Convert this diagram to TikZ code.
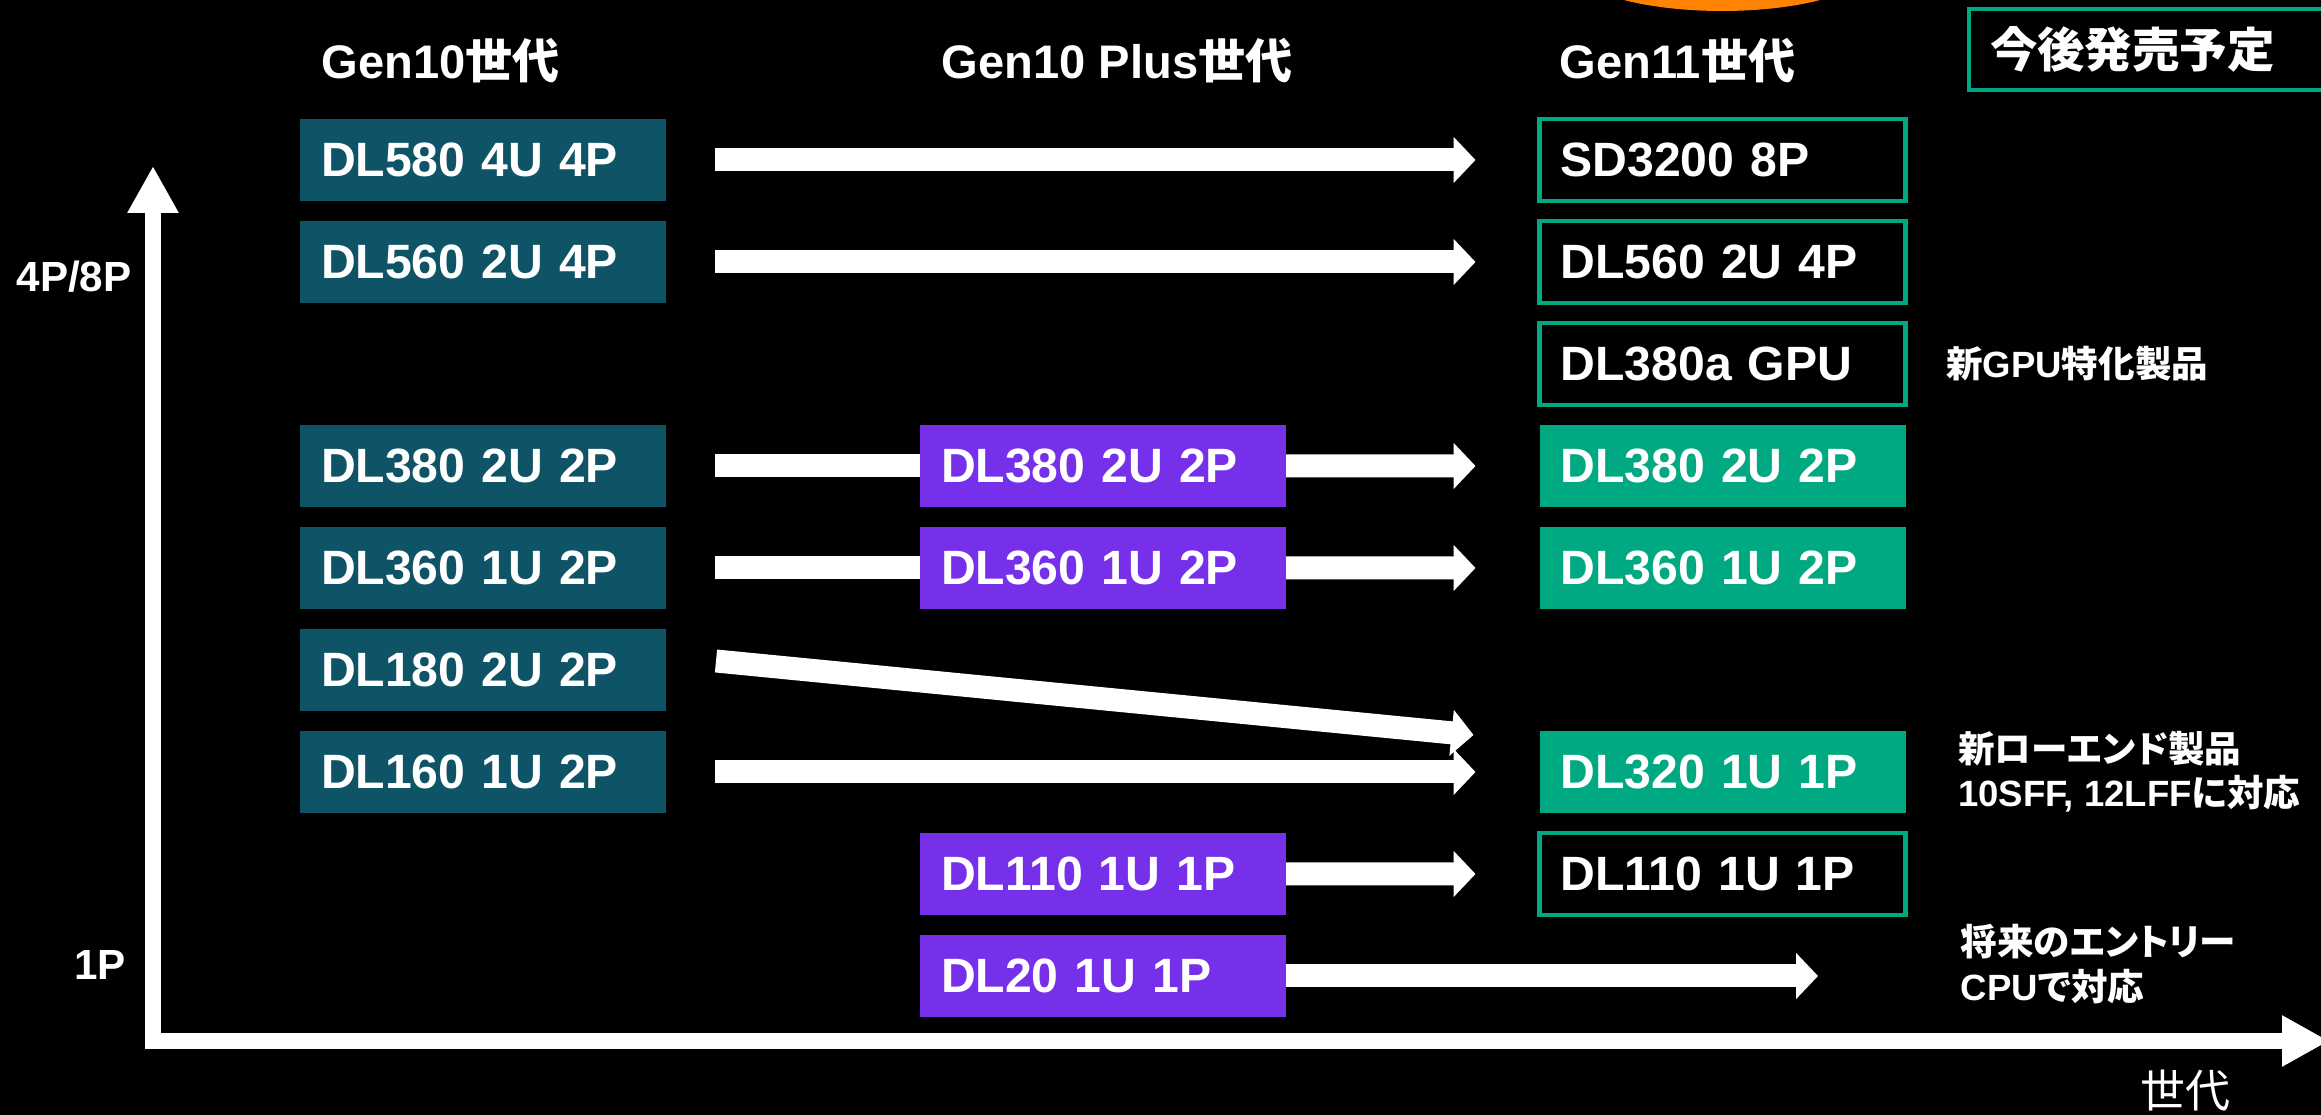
\documentclass[tikz,border=0pt]{standalone}
\usepackage{fontspec}
\setmainfont{Liberation Sans}
\newfontfamily\cjkfont{Noto Sans CJK JP}[RawFeature=+palt]
\newcommand{\jtext}[1]{{\cjkfont #1}}
\usepackage{xcolor}
\usepackage{tikz}
\usetikzlibrary{arrows.meta}
\usetikzlibrary{positioning}
\definecolor{hpeslate}{HTML}{0F5366}
\definecolor{hpepurple}{HTML}{7630EA}
\definecolor{hpegreen}{HTML}{01A982}
\definecolor{hpeorange}{HTML}{FF8300}
\tikzset{
  srv/.style = {rectangle, align=left, inner xsep=0.21cm, inner ysep=0pt,
    outer sep=0pt, text width=3.24cm, minimum height=0.82cm, text=white,
    font=\bfseries\fontsize{13.7}{16}\selectfont},
  srv_old/.style = {srv, fill=hpeslate},% Gen10
  srv_plus/.style = {srv, fill=hpepurple},% Gen10 Plus
  srv_new/.style = {srv, fill=hpegreen},% Gen11
  srv_soon/.style = {srv, draw=hpegreen, line width=1.2pt},% Gen11, a venir
  head/.style = {anchor=west, inner sep=0pt, text=white,
    font=\bfseries\fontsize{13.4}{16}\selectfont},
  note/.style = {anchor=west, align=left, inner sep=0pt, text=white,
    font=\bfseries\fontsize{10.4}{12.6}\selectfont},
  axlabel/.style = {inner sep=0pt, text=white,
    font=\bfseries\fontsize{12}{14}\selectfont},
  flow/.style = {white, line width=0.23cm, shorten <=0.49cm, shorten >=0.64cm,
    -{Triangle[length=0.22cm,width=0.45cm]}},
  feed/.style = {white, line width=0.23cm, shorten <=0.49cm},
  axis/.style = {white, line width=0.16cm,
    {Triangle[length=0.47cm,width=0.48cm]}-{Triangle[length=0.47cm,width=0.48cm]}}
}

\begin{document}
\begin{tikzpicture}
\fill[black, use as bounding box] (0,0) rectangle (23.21,11.15);
\fill[hpeorange] (17.22,11.49) ellipse (1.5cm and 0.45cm);

% titres
\node[head] (h10) at (3.21,10.54) {Gen10\jtext{世代}};
\node[head] (h10p) at (9.41,10.54) {Gen10 Plus\jtext{世代}};
\node[head] (h11) at (15.59,10.54) {Gen11\jtext{世代}};
\node[srv_soon, minimum height=0.81cm, text width=3.29cm,
  font=\bfseries\fontsize{13.5}{16}\selectfont] (soon) at (21.545,10.655) {\jtext{今後発売予定}};

% Gen10
\node[srv_old] (g580) at (4.83,9.55) {DL580 4U 4P};
\node[srv_old, below=0.2cm of g580] (g560) {DL560 2U 4P};
\node[srv_old, below=1.22cm of g560] (g380) {DL380 2U 2P};
\node[srv_old, below=0.2cm of g380] (g360) {DL360 1U 2P};
\node[srv_old, below=0.2cm of g360] (g180) {DL180 2U 2P};
\node[srv_old, below=0.2cm of g180] (g160) {DL160 1U 2P};

% Gen10 Plus
\node[srv_plus, right=2.54cm of g380] (p380) {DL380 2U 2P};
\node[srv_plus, right=2.54cm of g360] (p360) {DL360 1U 2P};
\node[srv_plus, below=2.24cm of p360] (p110) {DL110 1U 1P};
\node[srv_plus, below=0.2cm of p110] (p20) {DL20 1U 1P};

% Gen11
\node[srv_soon] (n580) at (17.225,9.55) {SD3200 8P};
\node[srv_soon, below=0.2cm of n580] (n560) {DL560 2U 4P};
\node[srv_soon, below=0.2cm of n560] (n380a) {DL380a GPU};
\node[srv_new, below=0.2cm of n380a] (n380) {DL380 2U 2P};
\node[srv_new, below=0.2cm of n380] (n360) {DL360 1U 2P};
\node[srv_new, below=1.22cm of n360] (n320) {DL320 1U 1P};
\node[srv_soon, below=0.2cm of n320] (n110) {DL110 1U 1P};

\coordinate[right=5.32cm of p20] (e20);

% commentaires
\node[note, right=0.4cm of n380a] (c380a) {\jtext{新}GPU\jtext{特化製品}};
\node[note, right=0.52cm of n320] (c320) {\jtext{新ローエンド製品}\\10SFF, 12LFF\jtext{に対応}};
\node[note] (c20) at ([xshift=1.42cm,yshift=0.12cm]e20) {\jtext{将来のエントリー}\\CPU\jtext{で対応}};

% fleches
\draw[flow] (g580) -- (n580);
\draw[flow] (g560) -- (n560);
\draw[feed] (g380) -- (p380);
\draw[flow, shorten <=0pt] (p380) -- (n380);
\draw[feed] (g360) -- (p360);
\draw[flow, shorten <=0pt] (p360) -- (n360);
\draw[flow, shorten <=0pt, shorten >=0pt] ([xshift=0.5cm,yshift=0.09cm]g180.east) -- ([xshift=-0.66cm,yshift=0.37cm]n320.west);
\draw[flow] (g160) -- (n320);
\draw[flow, shorten <=0pt] (p110) -- (n110);
\draw[flow, shorten <=0pt, shorten >=0pt] (p20) -- (e20);

% axes
\coordinate (ytop) at (1.53,9.49);
\coordinate (xend) at (23.29,0.74);
\draw[axis] (ytop) |- (xend);
\node[axlabel] (lab4p) at (0.74,8.38) {4P/8P};
\node[axlabel] (lab1p) at (1.00,1.50) {1P};
\node[inner sep=0pt, text=white, font=\fontsize{12.8}{15}\selectfont] (labgen) at (21.85,0.24) {\jtext{世代}};
\end{tikzpicture}
\end{document}
